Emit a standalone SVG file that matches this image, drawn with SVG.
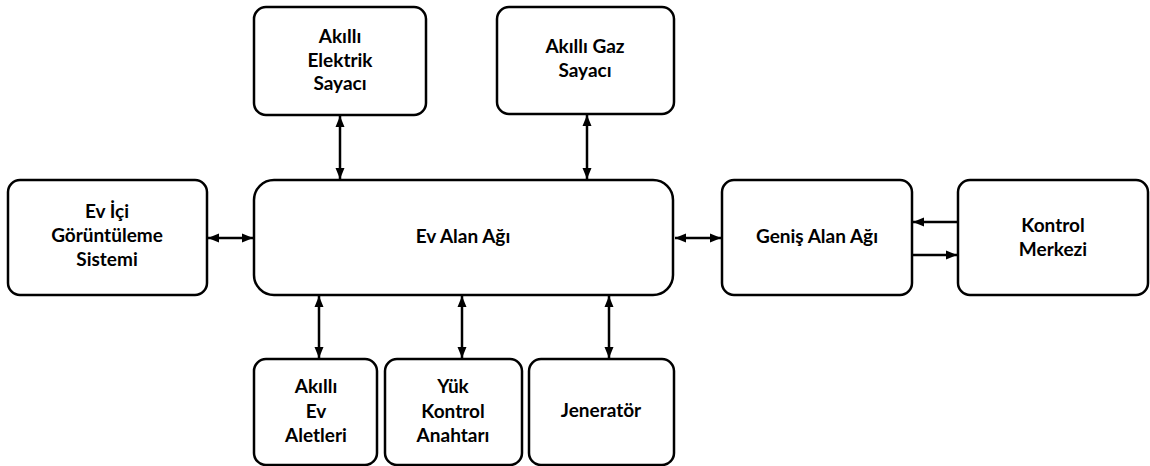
<svg xmlns="http://www.w3.org/2000/svg" width="1150" height="466" viewBox="0 0 1150 466">
<style>
.box{fill:#fff;stroke:#000;stroke-width:2.5}
.t{font-family:Lato,"Liberation Sans",sans-serif;font-weight:bold;font-size:19px;fill:#000;text-anchor:middle}
.c{stroke:#000;stroke-width:2.5;fill:none}
</style>
<defs>
<marker id="ah" markerUnits="userSpaceOnUse" markerWidth="11" markerHeight="11" viewBox="0 0 11 11" refX="11" refY="5.5" orient="auto-start-reverse">
<path d="M0,1 L11,5.5 L0,10 Z" fill="#000"/>
</marker>
</defs>
<rect width="1150" height="466" fill="#fff"/>
<g id="elektrik"><rect class="box" x="254" y="7" width="172" height="108" rx="12"/>
<text class="t" x="340" y="43">Akıllı</text><text class="t" x="340" y="67">Elektrik</text><text class="t" x="340" y="90">Sayacı</text></g>
<g id="gaz"><rect class="box" x="497" y="7" width="177" height="107" rx="12"/>
<text class="t" x="585" y="53">Akıllı Gaz</text><text class="t" x="585" y="77">Sayacı</text></g>
<g id="evici"><rect class="box" x="8" y="180" width="199" height="115" rx="12"/>
<text class="t" x="107" y="218">Ev İçi</text><text class="t" x="107" y="242">Görüntüleme</text><text class="t" x="107" y="266">Sistemi</text></g>
<g id="evalan"><rect class="box" x="254" y="180" width="419" height="115" rx="20"/>
<text class="t" x="463" y="243">Ev Alan Ağı</text></g>
<g id="genis"><rect class="box" x="722" y="180" width="190" height="115" rx="12"/>
<text class="t" x="817" y="243">Geniş Alan Ağı</text></g>
<g id="kontrol"><rect class="box" x="958" y="180" width="190" height="115" rx="12"/>
<text class="t" x="1053" y="232">Kontrol</text><text class="t" x="1053" y="256">Merkezi</text></g>
<g id="aletler"><rect class="box" x="254" y="359" width="123" height="106" rx="12"/>
<text class="t" x="316" y="393">Akıllı</text><text class="t" x="316" y="418">Ev</text><text class="t" x="316" y="442">Aletleri</text></g>
<g id="yuk"><rect class="box" x="385" y="359" width="137" height="106" rx="12"/>
<text class="t" x="453" y="393">Yük</text><text class="t" x="453" y="418">Kontrol</text><text class="t" x="453" y="442">Anahtarı</text></g>
<g id="jenerator"><rect class="box" x="529" y="359" width="145" height="106" rx="12"/>
<text class="t" x="601" y="417">Jeneratör</text></g>
<g id="connectors">
<line class="c" x1="340" y1="116" x2="340" y2="179" marker-start="url(#ah)" marker-end="url(#ah)"/>
<line class="c" x1="587" y1="115" x2="587" y2="179" marker-start="url(#ah)" marker-end="url(#ah)"/>
<line class="c" x1="208" y1="238" x2="253" y2="238" marker-start="url(#ah)" marker-end="url(#ah)"/>
<line class="c" x1="675" y1="238" x2="721" y2="238" marker-start="url(#ah)" marker-end="url(#ah)"/>
<line class="c" x1="957" y1="222" x2="913" y2="222" marker-end="url(#ah)"/>
<line class="c" x1="913" y1="255" x2="957" y2="255" marker-end="url(#ah)"/>
<line class="c" x1="319" y1="296" x2="319" y2="358" marker-start="url(#ah)" marker-end="url(#ah)"/>
<line class="c" x1="462" y1="296" x2="462" y2="358" marker-start="url(#ah)" marker-end="url(#ah)"/>
<line class="c" x1="609" y1="296" x2="609" y2="358" marker-start="url(#ah)" marker-end="url(#ah)"/>
</g>
</svg>
